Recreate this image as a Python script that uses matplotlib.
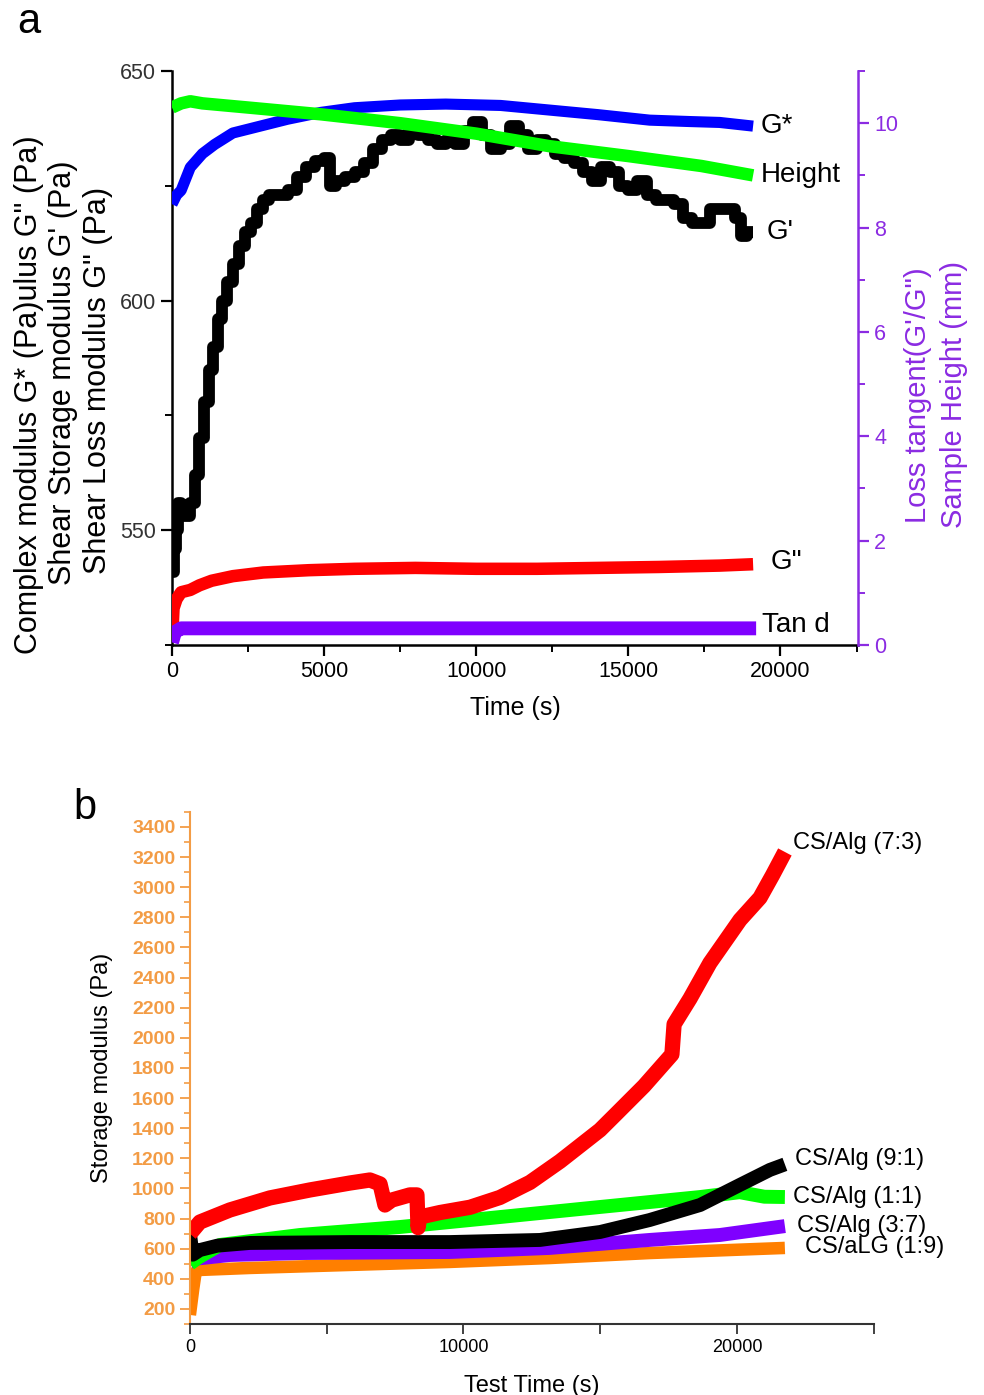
import numpy as np
import matplotlib
matplotlib.use('Agg')
import matplotlib.pyplot as plt
from matplotlib.ticker import MultipleLocator

plt.rcParams['font.family'] = ['Liberation Sans', 'DejaVu Sans']

# ---------------- Datos panel a ----------------
# G* (Pa), eje izquierdo
t_gstar = [0, 150, 300, 600, 1000, 1400, 2000, 2900, 3800, 4900, 6000, 7500,
           9000, 10800, 12400, 14000, 15700, 17000, 18000, 19100]
gstar = [621, 623, 624, 629, 632, 634, 636.5, 638, 639.5, 641, 642, 642.6,
         642.8, 642.5, 641.5, 640.5, 639.3, 639, 638.8, 638]

# G' (Pa), eje izquierdo (escalones)
t_gp = [0, 60, 120, 200, 300, 450, 600, 750, 900, 1050, 1200, 1350, 1500, 1650,
        1800, 2000, 2200, 2400, 2600, 2800, 3000, 3200, 3500, 3800, 4100, 4400,
        4700, 5000, 5200, 5400, 5700, 6000, 6300, 6600, 6900, 7200, 7500, 7800,
        8100, 8400, 8700, 9000, 9300, 9600, 9900, 10200, 10500, 10800, 11100,
        11400, 11700, 12000, 12300, 12600, 12900, 13200, 13500, 13800, 14100,
        14400, 14700, 15000, 15300, 15600, 15900, 16200, 16500, 16800, 17100,
        17400, 17700, 18000, 18300, 18500, 18700, 18900, 19100]
gp = [541, 546, 550, 556, 553, 553, 556, 562, 570, 578, 585, 590, 596, 600,
      604, 608, 612, 615, 617, 620, 622, 623, 623, 624, 627, 629,
      630.5, 631, 625, 626, 627, 628, 630, 633, 635, 636, 635, 638,
      636, 635, 634, 635, 634, 637, 639, 636, 633, 634, 638,
      636, 633, 635, 634, 632, 631, 630, 628, 626, 629,
      628, 625, 624, 626, 623, 622, 622, 621, 618, 617,
      617, 620, 620, 620, 618, 614, 615, 615]

# G'' (Pa), eje izquierdo
t_gpp = [0, 50, 150, 300, 600, 900, 1300, 2000, 3000, 4500, 6000, 8000, 10000,
         12000, 14000, 16000, 18000, 19100]
gpp = [526, 533, 535, 536.5, 537, 538, 539, 540, 540.8, 541.3, 541.6, 541.8,
       541.6, 541.6, 541.8, 542, 542.3, 542.6]

# Altura (mm), eje derecho
t_h = [0, 300, 600, 1000, 2500, 4900, 7500, 10000, 12400, 15000, 17400, 19100]
height = [10.3, 10.38, 10.42, 10.38, 10.3, 10.17, 10.0, 9.8, 9.56, 9.37, 9.18, 9.0]

# Tan d, eje derecho
t_tand = [0, 100, 300, 600, 19200]
tand = [0.05, 0.25, 0.32, 0.32, 0.32]

# ---------------- Datos panel b ----------------
t_73 = [0, 100, 365, 1460, 2925, 4390, 5850, 6580, 6950, 7130, 7380, 8040, 8300,
        8340, 8400, 9140, 10240, 11330, 12430, 13530, 14990, 15610, 16600,
        17620, 17700, 18280, 19010, 20110, 20840, 21300, 21750]
g_73 = [700, 720, 777, 857, 937, 990, 1036, 1056, 1030, 890, 923, 957, 957,
        740, 810, 840, 875, 940, 1040, 1180, 1388, 1500, 1680, 1890, 2090,
        2260, 2497, 2783, 2930, 3080, 3234]

t_91 = [0, 100, 365, 1000, 2190, 5850, 9500, 12800, 15000, 16800, 18650, 20100,
        21200, 21750]
g_91 = [700, 560, 591, 620, 638, 644, 644, 658, 711, 790, 890, 1023, 1123, 1160]

t_11 = [0, 300, 1100, 4020, 7680, 11330, 15000, 18650, 20100, 21000, 21750]
g_11 = [500, 540, 625, 691, 744, 810, 877, 943, 975, 945, 943]

t_37 = [0, 300, 1460, 4000, 9500, 13160, 16800, 19380, 21750]
g_37 = [512, 535, 558, 571, 578, 605, 658, 691, 750]

t_19 = [0, 120, 160, 200, 260, 2190, 5850, 9500, 13160, 16800, 21750]
g_19 = [160, 330, 380, 430, 458, 472, 492, 512, 538, 571, 605]

names_b = ['CS/Alg (7:3)', 'CS/Alg (9:1)', 'CS/Alg (1:1)', 'CS/Alg (3:7)',
           'CS/aLG (1:9)']

# ---------------- Figura ----------------
fig = plt.figure(figsize=(9.84, 13.95), dpi=100)

purple_ax = '#8B2BE2'
ax1 = fig.add_axes([0.1748, 0.5376, 0.6972, 0.4115])
ax1r = ax1.twinx()

ax1.plot(t_gstar, gstar, color='#0000FF', lw=8, solid_capstyle='butt', zorder=3)
ax1.plot(t_gp, gp, color='black', lw=8.5, drawstyle='steps-post',
         solid_capstyle='butt', zorder=4)
ax1.plot(t_gpp, gpp, color='#FF0000', lw=9, solid_capstyle='butt', zorder=3)
ax1r.plot(t_h, height, color='#00FF00', lw=9, solid_capstyle='butt')
ax1r.plot(t_tand, tand, color='#7F00FF', lw=10, solid_capstyle='butt')

ax1.set_xlim(0, 22550)
ax1.set_ylim(525, 650)
ax1r.set_ylim(0, 11)

ax1.xaxis.set_major_locator(MultipleLocator(5000))
ax1.xaxis.set_minor_locator(MultipleLocator(2500))
ax1.yaxis.set_major_locator(MultipleLocator(50))
ax1.yaxis.set_minor_locator(MultipleLocator(25))
ax1r.yaxis.set_major_locator(MultipleLocator(2))
ax1r.yaxis.set_minor_locator(MultipleLocator(1))

for ax in (ax1, ax1r):
    ax.spines['top'].set_visible(False)
ax1.spines['right'].set_visible(False)
ax1r.spines['left'].set_visible(False)
ax1r.spines['bottom'].set_visible(False)
ax1r.spines['right'].set_color(purple_ax)
for s in ('left', 'bottom'):
    ax1.spines[s].set_linewidth(1.8)
ax1r.spines['right'].set_linewidth(1.8)

ax1.tick_params(which='major', length=8, width=1.6, labelsize=15.5, direction='out')
ax1.tick_params(which='minor', length=5, width=1.4, direction='out')
ax1.tick_params(axis='y', colors='black', labelcolor='#333333')
ax1r.tick_params(which='major', length=8, width=1.6, labelsize=15.5,
                 colors=purple_ax, direction='out')
ax1r.tick_params(which='minor', length=5, width=1.4, colors=purple_ax)
ax1.set_xlabel('Time (s)', fontsize=18, labelpad=10)

# Etiquetas eje y (tres lineas superpuestas)
fig.text(0.029, 0.717, 'Complex modulus G* (Pa)ulus G" (Pa)', rotation=90,
         fontsize=22, ha='center', va='center')
fig.text(0.064, 0.733, "Shear Storage modulus G' (Pa)", rotation=90,
         fontsize=22, ha='center', va='center')
fig.text(0.100, 0.727, 'Shear Loss modulus G" (Pa)', rotation=90,
         fontsize=22, ha='center', va='center')
fig.text(0.933, 0.717, "Loss tangent(G'/G\")", rotation=90, fontsize=21,
         ha='center', va='center', color=purple_ax)
fig.text(0.970, 0.717, 'Sample Height (mm)', rotation=90, fontsize=21,
         ha='center', va='center', color=purple_ax)

# Etiquetas de curvas
ax1.annotate('G*', (t_gstar[-1], gstar[-1]), xytext=(8, 0),
             textcoords='offset pixels', fontsize=20, va='center')
ax1r.annotate('Height', (t_h[-1], height[-1]), xytext=(8, 0),
              textcoords='offset pixels', fontsize=20, va='center')
ax1.annotate("G'", (t_gp[-1], gp[-1]), xytext=(14, 0),
             textcoords='offset pixels', fontsize=20, va='center')
ax1.annotate('G"', (t_gpp[-1], gpp[-1]), xytext=(18, 2),
             textcoords='offset pixels', fontsize=20, va='center')
ax1r.annotate('Tan d', (t_tand[-1], tand[-1]), xytext=(6, 3),
              textcoords='offset pixels', fontsize=20, va='center')

fig.text(0.018, 0.984, 'a', fontsize=30, va='center')

# ---------------- Panel b ----------------
orange_ax = '#F39C45'
ax2 = fig.add_axes([0.193, 0.0509, 0.695, 0.3671])
series_b = [(t_19, g_19, '#FF7F00', 9), (t_37, g_37, '#7F00FF', 10),
            (t_11, g_11, '#00FF00', 10), (t_91, g_91, 'black', 10),
            (t_73, g_73, '#FF0000', 11)]
for t, g, c, w in series_b:
    ax2.plot(t, g, color=c, lw=w, solid_capstyle='butt')

ax2.set_xlim(0, 25000)
ax2.set_ylim(100, 3500)
ax2.xaxis.set_major_locator(MultipleLocator(10000))
ax2.xaxis.set_minor_locator(MultipleLocator(5000))
ax2.yaxis.set_major_locator(MultipleLocator(200))
ax2.yaxis.set_minor_locator(MultipleLocator(100))
ax2.spines['top'].set_visible(False)
ax2.spines['right'].set_visible(False)
ax2.spines['left'].set_color(orange_ax)
ax2.spines['bottom'].set_color('#333333')
ax2.spines['left'].set_linewidth(1.5)
ax2.spines['bottom'].set_linewidth(1.5)
ax2.tick_params(axis='y', which='major', length=7, width=1.3, colors=orange_ax,
                labelsize=14)
ax2.tick_params(axis='y', which='minor', length=4, width=1.2, colors=orange_ax)
ax2.tick_params(axis='x', which='major', length=7, width=1.3, labelsize=13,
                colors='#333333', labelcolor='black')
ax2.tick_params(axis='x', which='minor', length=7, width=1.3, colors='#333333')
for lab in ax2.get_yticklabels():
    lab.set_fontweight('bold')
ax2.set_xlabel('Test Time (s)', fontsize=17, labelpad=14)
ax2.set_ylabel('Storage modulus (Pa)', fontsize=17, labelpad=14)

offs_b = [(8, 9), (10, 5), (8, 0), (12, 0), (20, 1)]
ends_b = [(t_73, g_73), (t_91, g_91), (t_11, g_11), (t_37, g_37), (t_19, g_19)]
for name, (t, g), off in zip(names_b, ends_b, offs_b):
    ax2.annotate(name, (t[-1], g[-1]), xytext=off, textcoords='offset pixels',
                 fontsize=17, va='center')

fig.text(0.075, 0.421, 'b', fontsize=30, va='center')

plt.savefig('out.png', dpi=100)
